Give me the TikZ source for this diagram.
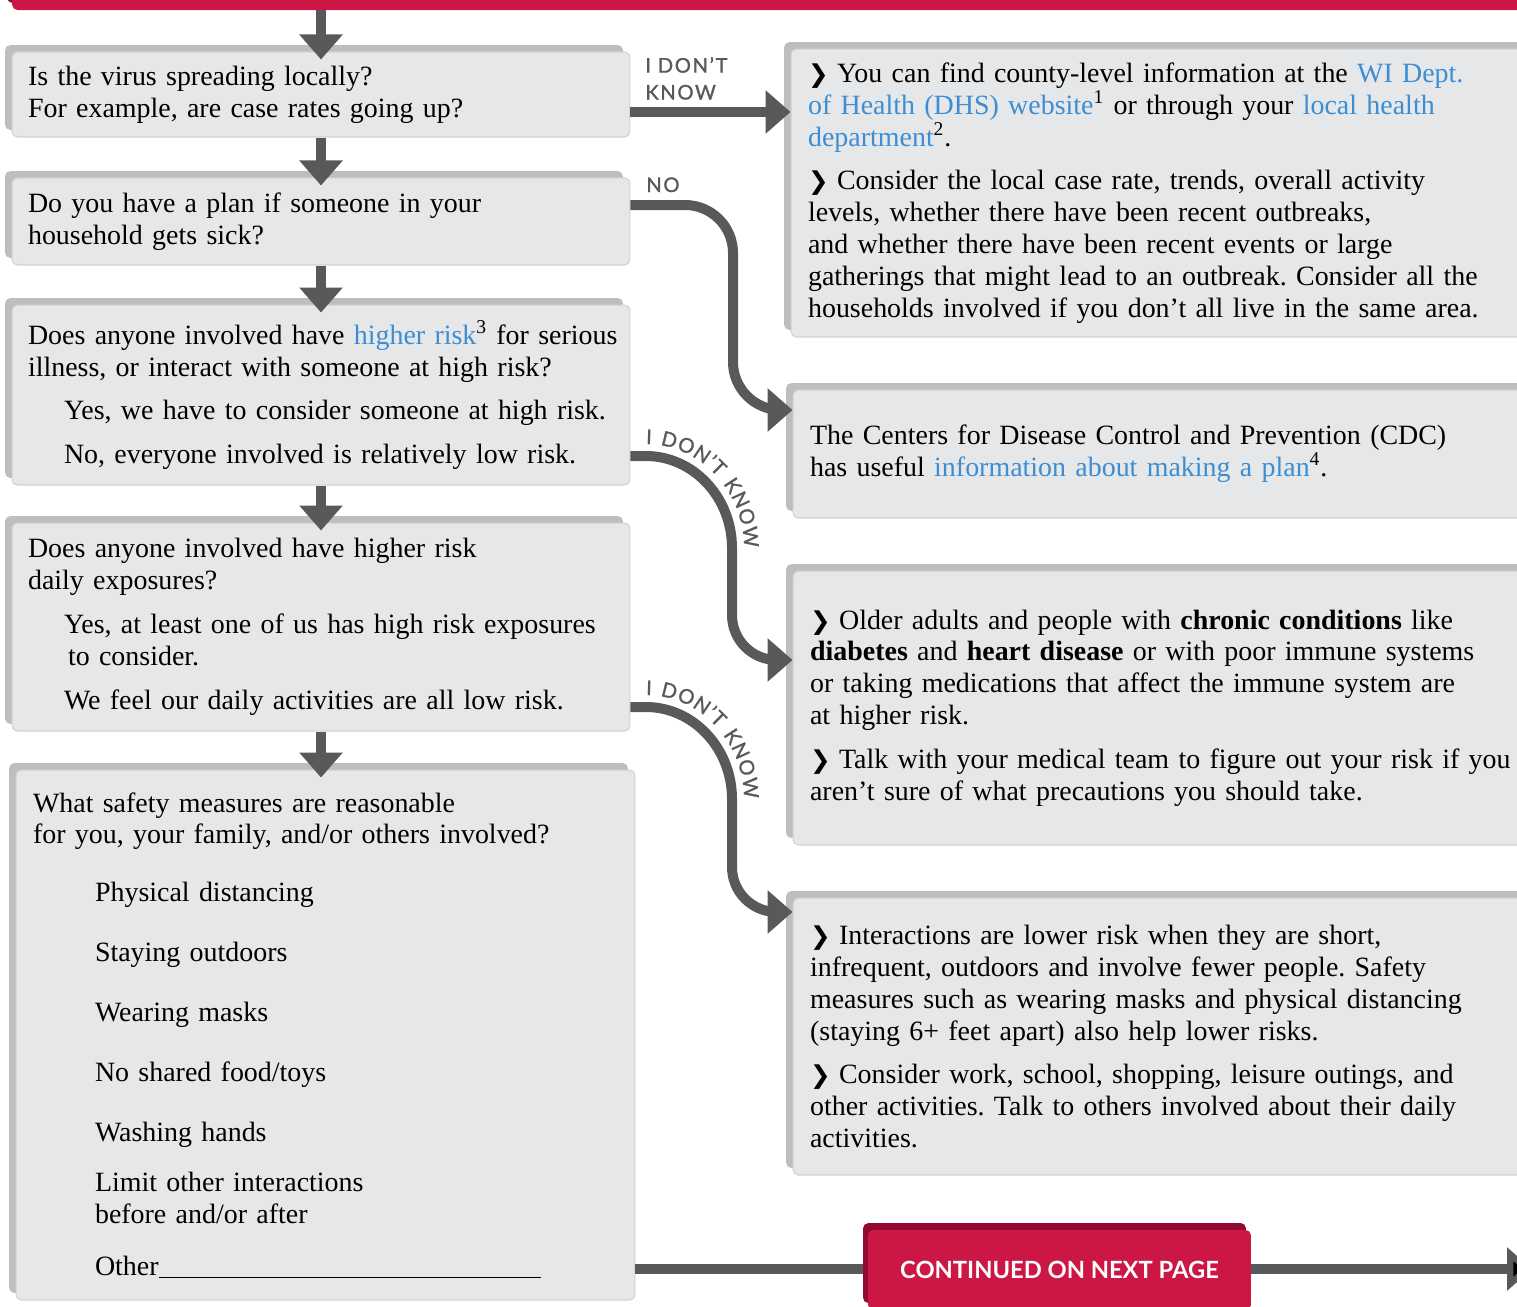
\documentclass[tikz,border=0pt]{standalone}
\usepackage{fontspec}
\setmainfont[WordSpace=0.8]{Liberation Serif}
\newfontfamily\lblfont[LetterSpace=8, FakeBold=1.2]{Lato}
\newfontfamily\bannerfont{Lato}
\newfontfamily\chevfont{DejaVu Sans}
\usetikzlibrary{arrows.meta,shadows,decorations.text}
\definecolor{crimson}{HTML}{CC1745}
\definecolor{darkcrimson}{HTML}{920A30}
\definecolor{arrowgray}{HTML}{58595B}
\definecolor{boxfill}{HTML}{E6E7E8}
\definecolor{boxshadow}{HTML}{BCBEC0}
\definecolor{boxedge}{HTML}{D0D2D3}
\definecolor{linkblue}{HTML}{3B8ED3}
\frenchspacing
\newcommand{\bodyfont}{\fontsize{15.9}{18.14}\selectfont}
\newcommand{\weblink}[1]{\textcolor{linkblue}{#1}}
\newcommand{\chev}{{\chevfont\bfseries\fontsize{14}{12}\selectfont ❯}\hspace{0.3em}}
\tikzset{
  card/.style={fill=boxfill, draw=boxedge, line width=0.6pt, rounded corners=3pt,
    inner xsep=0.32cm, inner ysep=0pt, align=left, font=\bodyfont,
    general shadow={fill=boxshadow, draw=none, shadow xshift=-0.14cm, shadow yshift=0.14cm}},
  qbox/.style={card, text width=11.72cm},
  rbox/.style={card, inner xsep=0.34cm, text width=16cm},
  bannerbox/.style={fill=crimson, rounded corners=3pt, text=white,
    font=\bannerfont\bfseries\fontsize{13.5}{16}\selectfont,
    general shadow={fill=darkcrimson, shadow xshift=-0.1cm, shadow yshift=0.14cm}},
  flow/.style={draw=arrowgray, line width=0.2cm, -{Triangle[length=0.5cm,width=0.84cm]}},
  lbl/.style={text=arrowgray, inner sep=0pt, align=left,
    font=\lblfont\fontsize{11.5}{15.3}\selectfont},
  curvelbl/.style={decorate, decoration={text along path, text color=arrowgray,
    text align={fit to path},
    text={|\lblfont\fontsize{11.5}{12}\selectfont|I DON’T KNOW}}},
}

\begin{document}
\begin{tikzpicture}[x=0.02cm, y=-0.02cm]
  \useasboundingbox (0,0) rectangle (1517,1306);
  \clip (0,0) rectangle (1517,1306);

  \node[bannerbox, minimum width=30.56cm, minimum height=1cm] (topbar) at (776,-15) {};

  \node[qbox, minimum height=1.7cm] (q1) at (321,94.5) {Is the virus spreading locally?\\
    For example, are case rates going up?};
  \node[qbox, minimum height=1.74cm] (q2) at (321,221.5) {Do you have a plan if someone in your\\
    household gets sick?};
  \node[qbox, minimum height=3.6cm] (q3) at (321,395) {\mbox{Does anyone involved have \weblink{higher risk}\textsuperscript{3} for serious}\\
    illness, or interact with someone at high risk?\\[0.24cm]
    \hspace*{0.72cm}\mbox{Yes, we have to consider someone at high risk.}\\[0.24cm]
    \hspace*{0.72cm}No, everyone involved is relatively low risk.};
  \node[qbox, minimum height=4.16cm] (q4) at (321,627) {Does anyone involved have higher risk\\
    daily exposures?\\[0.24cm]
    \hspace*{0.72cm}\mbox{Yes, at least one of us has high risk exposures}\\
    \hspace*{0.8cm}to consider.\\[0.24cm]
    \hspace*{0.72cm}We feel our daily activities are all low risk.};
  \node[qbox, inner xsep=0.34cm, text width=11.7cm, minimum height=10.6cm] (q5) at (325.5,1035) {What safety measures are reasonable\\
    for you, your family, and/or others involved?\\[0.52cm]
    \hspace*{1.24cm}Physical distancing\\[0.56cm]
    \hspace*{1.24cm}Staying outdoors\\[0.56cm]
    \hspace*{1.24cm}Wearing masks\\[0.56cm]
    \hspace*{1.24cm}No shared food/toys\\[0.56cm]
    \hspace*{1.24cm}Washing hands\\[0.36cm]
    \hspace*{1.24cm}Limit other interactions\\
    \hspace*{1.24cm}before and/or after\\[0.42cm]
    \hspace*{1.24cm}Other\rule[-1pt]{7.64cm}{0.6pt}};

  \node[rbox, minimum height=5.76cm] (r1) at (1208,193) {\chev You can find county-level information at the \weblink{WI Dept.}\\
    \weblink{of Health (DHS) website}\textsuperscript{1} or through your \weblink{local health}\\
    \weblink{department}\textsuperscript{2}.\\[0.24cm]
    \chev Consider the local case rate, trends, overall activity\\
    levels, whether there have been recent outbreaks,\\
    and whether there have been recent events or large\\
    gatherings that might lead to an outbreak. Consider all the\\
    households involved if you don’t all live in the same area.};
  \node[rbox, minimum height=2.56cm] (r2) at (1210,454) {The Centers for Disease Control and Prevention (CDC)\\
    has useful \weblink{information about making a plan}\textsuperscript{4}.};
  \node[rbox, minimum height=5.48cm] (r3) at (1210,708) {\chev Older adults and people with \textbf{chronic conditions} like\\
    \textbf{diabetes} and \textbf{heart disease} or with poor immune systems\\
    or taking medications that affect the immune system are\\
    at higher risk.\\[0.24cm]
    \chev Talk with your medical team to figure out your risk if you\\
    aren’t sure of what precautions you should take.};
  \node[rbox, minimum height=5.54cm] (r4) at (1210,1036.5) {\chev Interactions are lower risk when they are short,\\
    infrequent, outdoors and involve fewer people. Safety\\
    measures such as wearing masks and physical distancing\\
    (staying 6+ feet apart) also help lower risks.\\[0.24cm]
    \chev Consider work, school, shopping, leisure outings, and\\
    other activities. Talk to others involved about their daily\\
    activities.};

  \draw[flow, shorten >=-0.16cm] (topbar.south -| q1.north) -- (q1.north);
  \draw[flow, shorten >=-0.16cm] (q1.south) -- (q2.north);
  \draw[flow, shorten >=-0.16cm] (q2.south) -- (q3.north);
  \draw[flow, shorten >=-0.16cm] (q3.south) -- (q4.north);
  \draw[flow, shorten >=-0.16cm] (q4.south) -- (q4.south |- q5.north);

  \draw[flow] (q1.east |- 0,112) -- (r1.west |- 0,112);
  \draw[flow, rounded corners=0.96cm] (q2.east |- 0,205) -- (733,205) -- (733,410) -- (r2.west |- 0,410);
  \draw[flow] (q3.east |- 0,456) -- (646,456) .. controls (693,456) and (732,497) .. (732,548)
    -- (732,615) .. controls (732,640) and (752,660) .. (777,660) -- (r3.west |- 0,660);
  \draw[flow] (q4.east |- 0,707) -- (646,707) .. controls (693,707) and (732,748) .. (732,799)
    -- (732,867) .. controls (732,892) and (752,912) .. (777,912) -- (r4.west |- 0,912);

  \node[lbl, anchor=south west] (dk1) at (645,100) {I DON’T\\KNOW};
  \node[lbl, anchor=base west] (nolbl) at (646,192) {NO};
  \path[curvelbl] (646,444) .. controls (700,444) and (744,491) .. (744,548);
  \path[curvelbl] (646,695) .. controls (700,695) and (744,742) .. (744,799);

  \coordinate (nextpage) at (1532,1269);
  \draw[flow] (q5.east |- 0,1269) -- (nextpage);
  \node[bannerbox, minimum width=7.66cm, minimum height=1.6cm] (cont) at (1059.5,1270) {CONTINUED ON NEXT PAGE};
\end{tikzpicture}
\end{document}
